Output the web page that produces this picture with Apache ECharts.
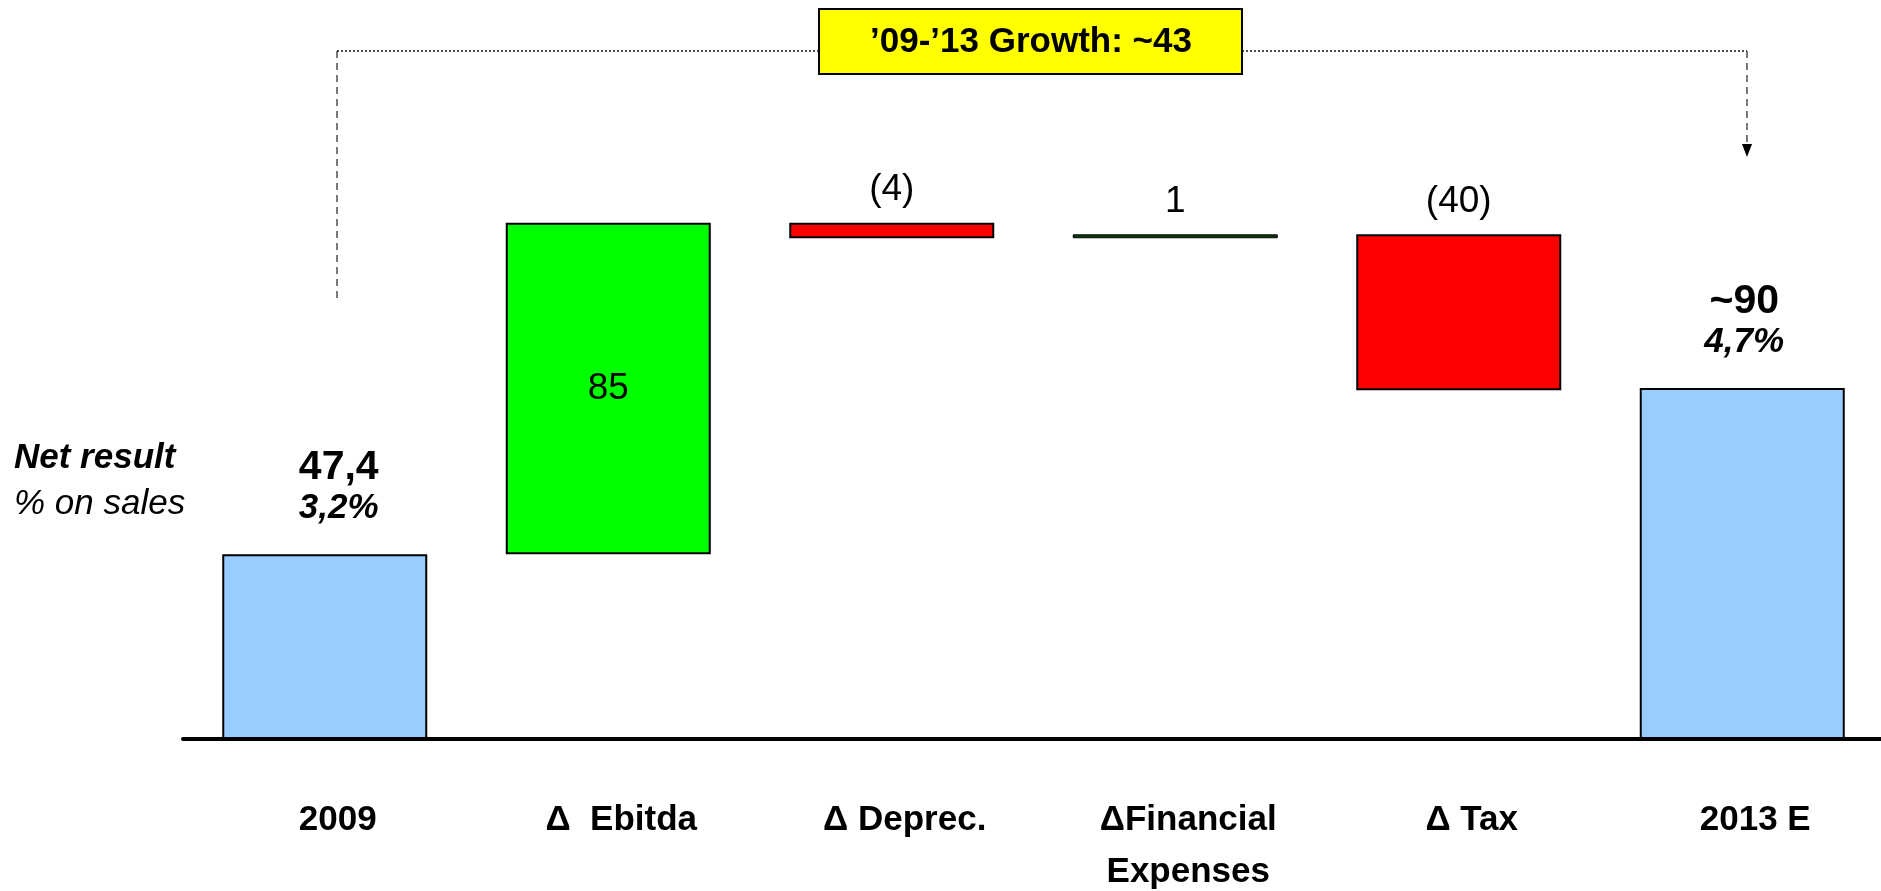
<!DOCTYPE html>
<html>
<head>
<meta charset="utf-8">
<script src="https://cdn.jsdelivr.net/npm/echarts@6/dist/echarts.min.js"></script>
<style>
    html, body { margin: 0; padding: 0; background: #fff; }
    #chart { width: 1881px; height: 891px; }
</style>
</head>
<body>
<div id="chart"></div>
<script>
    // data
    const categories = ['2009', 'Δ  Ebitda', 'Δ Deprec.', 'ΔFinancial\nExpenses', 'Δ Tax', '2013 E'];
    const startValue = 47.4;
    const deltas = [85, -4, 1, -40];
    const endValue = 90;
    const startMargin = '3,2%';
    const endMargin = '4,7%';

    const barColors = ['#99CCFF', '#00FF00', '#FF0000', '#0B3D0B', '#FF0000', '#99CCFF'];
    const FONT = 'Arial, "Liberation Sans", sans-serif';

    // build waterfall (transparent base + visible part)
    let run = startValue;
    let baseData = [0];
    let barData = [startValue];
    deltas.forEach(d => {
        if (d >= 0) {
            baseData.push(run);
            barData.push(d);
            run += d;
        } else {
            run += d;
            baseData.push(run);
            barData.push(-d);
        }
    });
    baseData.push(0);
    barData.push(endValue);

    const fmt = v => String(v).replace('.', ',');

    let seriesData = barData.map((v, i) => {
        let label;
        if (i === 0 || i === barData.length - 1) {
            let top = i === 0 ? fmt(startValue) : '~' + endValue;
            let pct = i === 0 ? startMargin : endMargin;
            label = {
                show: true,
                position: 'top',
                distance: 26,
                offset: [i === 0 ? 14 : 2, 0],
                formatter: '{v|' + top + '}\n{p|' + pct + '}',
                rich: {
                    v: { fontSize: 41, fontWeight: 'bold', lineHeight: 40, color: '#000', fontFamily: FONT },
                    p: { fontSize: 35, fontWeight: 'bold', fontStyle: 'italic', lineHeight: 40, color: '#000', fontFamily: FONT }
                }
            };
        } else {
            let d = deltas[i - 1];
            label = {
                show: true,
                position: i === 1 ? 'inside' : 'top',
                distance: 14,
                formatter: d < 0 ? '(' + (-d) + ')' : String(d),
                fontSize: 37,
                color: '#000',
                fontFamily: FONT
            };
        }
        return {
            value: v,
            itemStyle: { color: barColors[i], borderWidth: v < 2 ? 1 : 2 },
            label: label
        };
    });

    let growth = Math.round(endValue - startValue);

    let myChart = echarts.init(document.getElementById('chart'));
    let option = {
        backgroundColor: '#fff',
        animation: false,
        grid: {
            left: 183,
            width: 1701,
            top: 37,
            bottom: 152,
            outerBoundsMode: 'none'
        },
        xAxis: {
            type: 'category',
            data: categories,
            axisTick: { show: false },
            axisLine: {
                lineStyle: { color: '#000', width: 4, cap: 'round' }
            },
            axisLabel: {
                interval: 0,
                margin: 55,
                color: '#000',
                fontSize: 35,
                fontWeight: 'bold',
                fontFamily: FONT,
                lineHeight: 52,
                padding: [0, 0, 0, 26]
            }
        },
        yAxis: {
            type: 'value',
            show: false,
            min: 0,
            max: 180,
            splitLine: { show: false }
        },
        series: [{
            name: 'base',
            type: 'bar',
            stack: 'w',
            barWidth: 205,
            silent: true,
            itemStyle: { color: 'transparent', borderWidth: 0 },
            data: baseData
        }, {
            name: 'value',
            type: 'bar',
            stack: 'w',
            barWidth: 205,
            itemStyle: { borderColor: '#000', borderWidth: 2 },
            data: seriesData
        }],
        graphic: [
            // left dashed connector
            { type: 'line', shape: { x1: 337, y1: 51, x2: 337, y2: 299 },
              style: { stroke: '#222', lineWidth: 1.2, lineDash: [7, 5] } },
            { type: 'line', shape: { x1: 337, y1: 51, x2: 819, y2: 51 },
              style: { stroke: '#222', lineWidth: 1.6, lineDash: [2, 2] } },
            { type: 'line', shape: { x1: 1242, y1: 51, x2: 1747, y2: 51 },
              style: { stroke: '#222', lineWidth: 1.6, lineDash: [2, 2] } },
            { type: 'line', shape: { x1: 1747, y1: 51, x2: 1747, y2: 145 },
              style: { stroke: '#222', lineWidth: 1.2, lineDash: [7, 5] } },
            { type: 'polygon', shape: { points: [[1742, 144], [1752, 144], [1747, 157]] },
              style: { fill: '#000' } },
            // growth box
            { type: 'rect', shape: { x: 819, y: 9, width: 423, height: 65 },
              style: { fill: '#FFFF00', stroke: '#000', lineWidth: 2 } },
            { type: 'text', x: 1031, y: 42,
              style: { text: '’09-’13 Growth: ~' + growth, fill: '#000', font: 'bold 35px ' + FONT,
                       textAlign: 'center', textVerticalAlign: 'middle' } },
            // left caption
            { type: 'text', x: 14, y: 458,
              style: { text: 'Net result', fill: '#000', font: 'italic bold 35px ' + FONT,
                       textAlign: 'left', textVerticalAlign: 'middle' } },
            { type: 'text', x: 14, y: 504,
              style: { text: '% on sales', fill: '#000', font: 'italic 35px ' + FONT,
                       textAlign: 'left', textVerticalAlign: 'middle' } }
        ]
    };
    myChart.setOption(option);

    window.addEventListener('resize', () => {
        if (myChart) {
            myChart.resize();
        }
    });
</script>
</body>
</html>
